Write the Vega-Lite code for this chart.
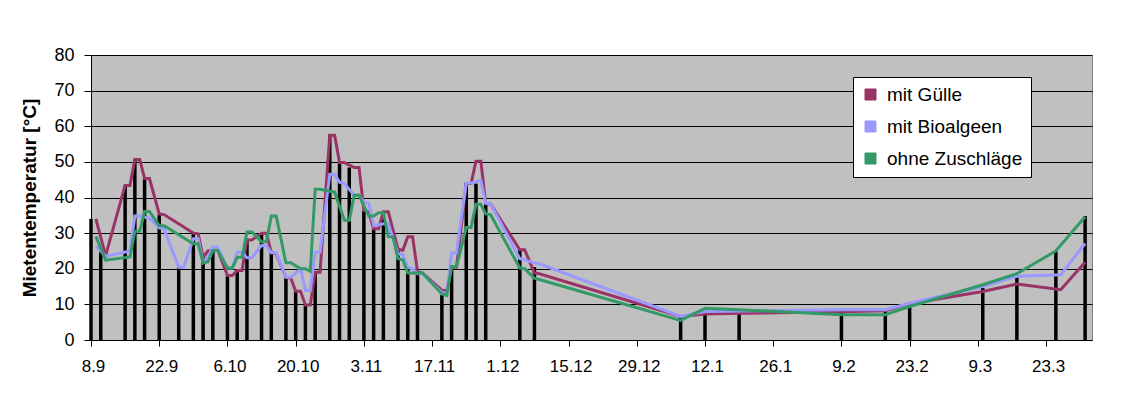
{
  "$schema": "https://vega.github.io/schema/vega-lite/v6.json",
  "width": 1001,
  "height": 285,
  "autosize": {"type": "none"},
  "padding": {"left": 91, "top": 55, "right": 54, "bottom": 66},
  "background": "white",
  "config": {
    "font": "Liberation Sans",
    "view": {"fill": "#C0C0C0", "stroke": "#808080", "strokeWidth": 1}
  },
  "datasets": {
    "balken": [
      {"Datum": "2004-09-08", "Temperatur": 34.0},
      {"Datum": "2004-09-10", "Temperatur": 25.0},
      {"Datum": "2004-09-15", "Temperatur": 43.4},
      {"Datum": "2004-09-17", "Temperatur": 50.7},
      {"Datum": "2004-09-19", "Temperatur": 45.3},
      {"Datum": "2004-09-22", "Temperatur": 35.2},
      {"Datum": "2004-09-26", "Temperatur": 20.4},
      {"Datum": "2004-09-29", "Temperatur": 30.0},
      {"Datum": "2004-10-01", "Temperatur": 23.2},
      {"Datum": "2004-10-03", "Temperatur": 25.3},
      {"Datum": "2004-10-06", "Temperatur": 18.1},
      {"Datum": "2004-10-08", "Temperatur": 19.5},
      {"Datum": "2004-10-10", "Temperatur": 28.1},
      {"Datum": "2004-10-13", "Temperatur": 30.0},
      {"Datum": "2004-10-15", "Temperatur": 24.5},
      {"Datum": "2004-10-18", "Temperatur": 17.6},
      {"Datum": "2004-10-20", "Temperatur": 13.7},
      {"Datum": "2004-10-22", "Temperatur": 9.8},
      {"Datum": "2004-10-24", "Temperatur": 19.0},
      {"Datum": "2004-10-27", "Temperatur": 57.5},
      {"Datum": "2004-10-29", "Temperatur": 49.8},
      {"Datum": "2004-10-31", "Temperatur": 48.4},
      {"Datum": "2004-11-03", "Temperatur": 36.4},
      {"Datum": "2004-11-05", "Temperatur": 31.2},
      {"Datum": "2004-11-07", "Temperatur": 36.0},
      {"Datum": "2004-11-10", "Temperatur": 25.1},
      {"Datum": "2004-11-12", "Temperatur": 20.1},
      {"Datum": "2004-11-14", "Temperatur": 18.7},
      {"Datum": "2004-11-19", "Temperatur": 12.6},
      {"Datum": "2004-11-21", "Temperatur": 20.9},
      {"Datum": "2004-11-24", "Temperatur": 44.1},
      {"Datum": "2004-11-26", "Temperatur": 43.9},
      {"Datum": "2004-11-28", "Temperatur": 38.2},
      {"Datum": "2004-12-05", "Temperatur": 25.3},
      {"Datum": "2004-12-08", "Temperatur": 20.5},
      {"Datum": "2005-01-07", "Temperatur": 6.6},
      {"Datum": "2005-01-12", "Temperatur": 7.3},
      {"Datum": "2005-01-19", "Temperatur": 7.3},
      {"Datum": "2005-02-09", "Temperatur": 8.0},
      {"Datum": "2005-02-18", "Temperatur": 8.0},
      {"Datum": "2005-02-23", "Temperatur": 10.2},
      {"Datum": "2005-03-10", "Temperatur": 14.6},
      {"Datum": "2005-03-17", "Temperatur": 17.9},
      {"Datum": "2005-03-25", "Temperatur": 24.9},
      {"Datum": "2005-03-31", "Temperatur": 34.8}
    ],
    "linien": [
      {"Datum": "2004-09-09", "Serie": "mit Gülle", "Temperatur": 34.0},
      {"Datum": "2004-09-11", "Serie": "mit Gülle", "Temperatur": 23.7},
      {"Datum": "2004-09-15", "Serie": "mit Gülle", "Temperatur": 43.4},
      {"Datum": "2004-09-16", "Serie": "mit Gülle", "Temperatur": 43.4},
      {"Datum": "2004-09-17", "Serie": "mit Gülle", "Temperatur": 50.7},
      {"Datum": "2004-09-18", "Serie": "mit Gülle", "Temperatur": 50.7},
      {"Datum": "2004-09-19", "Serie": "mit Gülle", "Temperatur": 45.3},
      {"Datum": "2004-09-20", "Serie": "mit Gülle", "Temperatur": 45.3},
      {"Datum": "2004-09-22", "Serie": "mit Gülle", "Temperatur": 35.4},
      {"Datum": "2004-09-23", "Serie": "mit Gülle", "Temperatur": 35.2},
      {"Datum": "2004-09-29", "Serie": "mit Gülle", "Temperatur": 30.0},
      {"Datum": "2004-09-30", "Serie": "mit Gülle", "Temperatur": 29.8},
      {"Datum": "2004-10-01", "Serie": "mit Gülle", "Temperatur": 23.2},
      {"Datum": "2004-10-02", "Serie": "mit Gülle", "Temperatur": 25.0},
      {"Datum": "2004-10-04", "Serie": "mit Gülle", "Temperatur": 25.3},
      {"Datum": "2004-10-06", "Serie": "mit Gülle", "Temperatur": 18.1},
      {"Datum": "2004-10-07", "Serie": "mit Gülle", "Temperatur": 18.1},
      {"Datum": "2004-10-08", "Serie": "mit Gülle", "Temperatur": 19.5},
      {"Datum": "2004-10-09", "Serie": "mit Gülle", "Temperatur": 19.5},
      {"Datum": "2004-10-10", "Serie": "mit Gülle", "Temperatur": 28.1},
      {"Datum": "2004-10-11", "Serie": "mit Gülle", "Temperatur": 28.1},
      {"Datum": "2004-10-13", "Serie": "mit Gülle", "Temperatur": 30.0},
      {"Datum": "2004-10-14", "Serie": "mit Gülle", "Temperatur": 30.0},
      {"Datum": "2004-10-15", "Serie": "mit Gülle", "Temperatur": 24.5},
      {"Datum": "2004-10-16", "Serie": "mit Gülle", "Temperatur": 24.2},
      {"Datum": "2004-10-18", "Serie": "mit Gülle", "Temperatur": 17.6},
      {"Datum": "2004-10-19", "Serie": "mit Gülle", "Temperatur": 17.4},
      {"Datum": "2004-10-20", "Serie": "mit Gülle", "Temperatur": 13.7},
      {"Datum": "2004-10-21", "Serie": "mit Gülle", "Temperatur": 13.7},
      {"Datum": "2004-10-22", "Serie": "mit Gülle", "Temperatur": 9.8},
      {"Datum": "2004-10-23", "Serie": "mit Gülle", "Temperatur": 9.8},
      {"Datum": "2004-10-24", "Serie": "mit Gülle", "Temperatur": 19.0},
      {"Datum": "2004-10-25", "Serie": "mit Gülle", "Temperatur": 19.0},
      {"Datum": "2004-10-27", "Serie": "mit Gülle", "Temperatur": 57.5},
      {"Datum": "2004-10-28", "Serie": "mit Gülle", "Temperatur": 57.5},
      {"Datum": "2004-10-29", "Serie": "mit Gülle", "Temperatur": 49.8},
      {"Datum": "2004-10-30", "Serie": "mit Gülle", "Temperatur": 49.8},
      {"Datum": "2004-11-01", "Serie": "mit Gülle", "Temperatur": 48.4},
      {"Datum": "2004-11-02", "Serie": "mit Gülle", "Temperatur": 48.4},
      {"Datum": "2004-11-03", "Serie": "mit Gülle", "Temperatur": 36.4},
      {"Datum": "2004-11-04", "Serie": "mit Gülle", "Temperatur": 35.9},
      {"Datum": "2004-11-05", "Serie": "mit Gülle", "Temperatur": 31.2},
      {"Datum": "2004-11-06", "Serie": "mit Gülle", "Temperatur": 31.2},
      {"Datum": "2004-11-07", "Serie": "mit Gülle", "Temperatur": 36.0},
      {"Datum": "2004-11-08", "Serie": "mit Gülle", "Temperatur": 36.0},
      {"Datum": "2004-11-10", "Serie": "mit Gülle", "Temperatur": 25.5},
      {"Datum": "2004-11-11", "Serie": "mit Gülle", "Temperatur": 25.2},
      {"Datum": "2004-11-12", "Serie": "mit Gülle", "Temperatur": 29.0},
      {"Datum": "2004-11-13", "Serie": "mit Gülle", "Temperatur": 29.0},
      {"Datum": "2004-11-14", "Serie": "mit Gülle", "Temperatur": 19.2},
      {"Datum": "2004-11-15", "Serie": "mit Gülle", "Temperatur": 18.8},
      {"Datum": "2004-11-19", "Serie": "mit Gülle", "Temperatur": 14.0},
      {"Datum": "2004-11-20", "Serie": "mit Gülle", "Temperatur": 13.8},
      {"Datum": "2004-11-21", "Serie": "mit Gülle", "Temperatur": 20.4},
      {"Datum": "2004-11-22", "Serie": "mit Gülle", "Temperatur": 20.4},
      {"Datum": "2004-11-24", "Serie": "mit Gülle", "Temperatur": 43.9},
      {"Datum": "2004-11-25", "Serie": "mit Gülle", "Temperatur": 43.9},
      {"Datum": "2004-11-26", "Serie": "mit Gülle", "Temperatur": 50.2},
      {"Datum": "2004-11-27", "Serie": "mit Gülle", "Temperatur": 50.2},
      {"Datum": "2004-11-28", "Serie": "mit Gülle", "Temperatur": 38.3},
      {"Datum": "2004-11-29", "Serie": "mit Gülle", "Temperatur": 38.2},
      {"Datum": "2004-12-05", "Serie": "mit Gülle", "Temperatur": 25.3},
      {"Datum": "2004-12-06", "Serie": "mit Gülle", "Temperatur": 25.3},
      {"Datum": "2004-12-08", "Serie": "mit Gülle", "Temperatur": 18.8},
      {"Datum": "2004-12-09", "Serie": "mit Gülle", "Temperatur": 18.6},
      {"Datum": "2005-01-07", "Serie": "mit Gülle", "Temperatur": 6.6},
      {"Datum": "2005-01-12", "Serie": "mit Gülle", "Temperatur": 7.3},
      {"Datum": "2005-01-19", "Serie": "mit Gülle", "Temperatur": 7.5},
      {"Datum": "2005-02-09", "Serie": "mit Gülle", "Temperatur": 7.9},
      {"Datum": "2005-02-18", "Serie": "mit Gülle", "Temperatur": 8.2},
      {"Datum": "2005-02-23", "Serie": "mit Gülle", "Temperatur": 10.2},
      {"Datum": "2005-03-10", "Serie": "mit Gülle", "Temperatur": 13.6},
      {"Datum": "2005-03-17", "Serie": "mit Gülle", "Temperatur": 15.7},
      {"Datum": "2005-03-26", "Serie": "mit Gülle", "Temperatur": 14.1},
      {"Datum": "2005-03-31", "Serie": "mit Gülle", "Temperatur": 21.8},

      {"Datum": "2004-09-09", "Serie": "mit Bioalgeen", "Temperatur": 26.3},
      {"Datum": "2004-09-11", "Serie": "mit Bioalgeen", "Temperatur": 23.5},
      {"Datum": "2004-09-16", "Serie": "mit Bioalgeen", "Temperatur": 25.0},
      {"Datum": "2004-09-17", "Serie": "mit Bioalgeen", "Temperatur": 34.8},
      {"Datum": "2004-09-18", "Serie": "mit Bioalgeen", "Temperatur": 34.8},
      {"Datum": "2004-09-20", "Serie": "mit Bioalgeen", "Temperatur": 34.2},
      {"Datum": "2004-09-22", "Serie": "mit Bioalgeen", "Temperatur": 31.5},
      {"Datum": "2004-09-23", "Serie": "mit Bioalgeen", "Temperatur": 31.2},
      {"Datum": "2004-09-26", "Serie": "mit Bioalgeen", "Temperatur": 20.4},
      {"Datum": "2004-09-27", "Serie": "mit Bioalgeen", "Temperatur": 20.4},
      {"Datum": "2004-09-29", "Serie": "mit Bioalgeen", "Temperatur": 28.4},
      {"Datum": "2004-09-30", "Serie": "mit Bioalgeen", "Temperatur": 28.4},
      {"Datum": "2004-10-01", "Serie": "mit Bioalgeen", "Temperatur": 21.8},
      {"Datum": "2004-10-02", "Serie": "mit Bioalgeen", "Temperatur": 23.2},
      {"Datum": "2004-10-03", "Serie": "mit Bioalgeen", "Temperatur": 26.1},
      {"Datum": "2004-10-04", "Serie": "mit Bioalgeen", "Temperatur": 26.1},
      {"Datum": "2004-10-06", "Serie": "mit Bioalgeen", "Temperatur": 20.2},
      {"Datum": "2004-10-07", "Serie": "mit Bioalgeen", "Temperatur": 20.2},
      {"Datum": "2004-10-08", "Serie": "mit Bioalgeen", "Temperatur": 24.6},
      {"Datum": "2004-10-09", "Serie": "mit Bioalgeen", "Temperatur": 24.6},
      {"Datum": "2004-10-10", "Serie": "mit Bioalgeen", "Temperatur": 23.1},
      {"Datum": "2004-10-11", "Serie": "mit Bioalgeen", "Temperatur": 23.1},
      {"Datum": "2004-10-13", "Serie": "mit Bioalgeen", "Temperatur": 26.5},
      {"Datum": "2004-10-14", "Serie": "mit Bioalgeen", "Temperatur": 26.5},
      {"Datum": "2004-10-15", "Serie": "mit Bioalgeen", "Temperatur": 24.5},
      {"Datum": "2004-10-16", "Serie": "mit Bioalgeen", "Temperatur": 24.5},
      {"Datum": "2004-10-18", "Serie": "mit Bioalgeen", "Temperatur": 17.6},
      {"Datum": "2004-10-19", "Serie": "mit Bioalgeen", "Temperatur": 17.6},
      {"Datum": "2004-10-21", "Serie": "mit Bioalgeen", "Temperatur": 20.0},
      {"Datum": "2004-10-22", "Serie": "mit Bioalgeen", "Temperatur": 13.9},
      {"Datum": "2004-10-23", "Serie": "mit Bioalgeen", "Temperatur": 13.9},
      {"Datum": "2004-10-24", "Serie": "mit Bioalgeen", "Temperatur": 24.6},
      {"Datum": "2004-10-25", "Serie": "mit Bioalgeen", "Temperatur": 24.6},
      {"Datum": "2004-10-27", "Serie": "mit Bioalgeen", "Temperatur": 46.5},
      {"Datum": "2004-10-28", "Serie": "mit Bioalgeen", "Temperatur": 46.5},
      {"Datum": "2004-10-29", "Serie": "mit Bioalgeen", "Temperatur": 44.3},
      {"Datum": "2004-10-30", "Serie": "mit Bioalgeen", "Temperatur": 43.9},
      {"Datum": "2004-11-01", "Serie": "mit Bioalgeen", "Temperatur": 40.6},
      {"Datum": "2004-11-02", "Serie": "mit Bioalgeen", "Temperatur": 40.6},
      {"Datum": "2004-11-03", "Serie": "mit Bioalgeen", "Temperatur": 38.7},
      {"Datum": "2004-11-04", "Serie": "mit Bioalgeen", "Temperatur": 38.4},
      {"Datum": "2004-11-05", "Serie": "mit Bioalgeen", "Temperatur": 32.1},
      {"Datum": "2004-11-07", "Serie": "mit Bioalgeen", "Temperatur": 32.6},
      {"Datum": "2004-11-08", "Serie": "mit Bioalgeen", "Temperatur": 32.6},
      {"Datum": "2004-11-10", "Serie": "mit Bioalgeen", "Temperatur": 24.2},
      {"Datum": "2004-11-11", "Serie": "mit Bioalgeen", "Temperatur": 24.0},
      {"Datum": "2004-11-12", "Serie": "mit Bioalgeen", "Temperatur": 20.4},
      {"Datum": "2004-11-13", "Serie": "mit Bioalgeen", "Temperatur": 20.0},
      {"Datum": "2004-11-14", "Serie": "mit Bioalgeen", "Temperatur": 18.6},
      {"Datum": "2004-11-15", "Serie": "mit Bioalgeen", "Temperatur": 18.6},
      {"Datum": "2004-11-19", "Serie": "mit Bioalgeen", "Temperatur": 13.4},
      {"Datum": "2004-11-20", "Serie": "mit Bioalgeen", "Temperatur": 12.9},
      {"Datum": "2004-11-21", "Serie": "mit Bioalgeen", "Temperatur": 24.4},
      {"Datum": "2004-11-22", "Serie": "mit Bioalgeen", "Temperatur": 24.4},
      {"Datum": "2004-11-24", "Serie": "mit Bioalgeen", "Temperatur": 44.1},
      {"Datum": "2004-11-25", "Serie": "mit Bioalgeen", "Temperatur": 44.1},
      {"Datum": "2004-11-27", "Serie": "mit Bioalgeen", "Temperatur": 44.8},
      {"Datum": "2004-11-28", "Serie": "mit Bioalgeen", "Temperatur": 38.4},
      {"Datum": "2004-11-29", "Serie": "mit Bioalgeen", "Temperatur": 38.2},
      {"Datum": "2004-12-05", "Serie": "mit Bioalgeen", "Temperatur": 22.8},
      {"Datum": "2004-12-06", "Serie": "mit Bioalgeen", "Temperatur": 22.5},
      {"Datum": "2004-12-08", "Serie": "mit Bioalgeen", "Temperatur": 21.6},
      {"Datum": "2004-12-09", "Serie": "mit Bioalgeen", "Temperatur": 21.4},
      {"Datum": "2005-01-07", "Serie": "mit Bioalgeen", "Temperatur": 6.6},
      {"Datum": "2005-01-12", "Serie": "mit Bioalgeen", "Temperatur": 8.0},
      {"Datum": "2005-02-09", "Serie": "mit Bioalgeen", "Temperatur": 8.5},
      {"Datum": "2005-02-18", "Serie": "mit Bioalgeen", "Temperatur": 8.5},
      {"Datum": "2005-02-23", "Serie": "mit Bioalgeen", "Temperatur": 10.3},
      {"Datum": "2005-03-10", "Serie": "mit Bioalgeen", "Temperatur": 15.0},
      {"Datum": "2005-03-17", "Serie": "mit Bioalgeen", "Temperatur": 17.9},
      {"Datum": "2005-03-26", "Serie": "mit Bioalgeen", "Temperatur": 18.3},
      {"Datum": "2005-03-31", "Serie": "mit Bioalgeen", "Temperatur": 27.1},

      {"Datum": "2004-09-09", "Serie": "ohne Zuschläge", "Temperatur": 29.1},
      {"Datum": "2004-09-11", "Serie": "ohne Zuschläge", "Temperatur": 22.4},
      {"Datum": "2004-09-16", "Serie": "ohne Zuschläge", "Temperatur": 23.3},
      {"Datum": "2004-09-17", "Serie": "ohne Zuschläge", "Temperatur": 30.5},
      {"Datum": "2004-09-18", "Serie": "ohne Zuschläge", "Temperatur": 30.5},
      {"Datum": "2004-09-19", "Serie": "ohne Zuschläge", "Temperatur": 36.1},
      {"Datum": "2004-09-20", "Serie": "ohne Zuschläge", "Temperatur": 36.1},
      {"Datum": "2004-09-22", "Serie": "ohne Zuschläge", "Temperatur": 32.1},
      {"Datum": "2004-09-23", "Serie": "ohne Zuschläge", "Temperatur": 32.1},
      {"Datum": "2004-09-29", "Serie": "ohne Zuschläge", "Temperatur": 27.0},
      {"Datum": "2004-09-30", "Serie": "ohne Zuschläge", "Temperatur": 27.0},
      {"Datum": "2004-10-01", "Serie": "ohne Zuschläge", "Temperatur": 21.7},
      {"Datum": "2004-10-02", "Serie": "ohne Zuschläge", "Temperatur": 21.9},
      {"Datum": "2004-10-03", "Serie": "ohne Zuschläge", "Temperatur": 25.1},
      {"Datum": "2004-10-04", "Serie": "ohne Zuschläge", "Temperatur": 25.1},
      {"Datum": "2004-10-06", "Serie": "ohne Zuschläge", "Temperatur": 20.2},
      {"Datum": "2004-10-07", "Serie": "ohne Zuschläge", "Temperatur": 20.2},
      {"Datum": "2004-10-08", "Serie": "ohne Zuschläge", "Temperatur": 23.2},
      {"Datum": "2004-10-09", "Serie": "ohne Zuschläge", "Temperatur": 23.2},
      {"Datum": "2004-10-10", "Serie": "ohne Zuschläge", "Temperatur": 30.3},
      {"Datum": "2004-10-11", "Serie": "ohne Zuschläge", "Temperatur": 30.3},
      {"Datum": "2004-10-13", "Serie": "ohne Zuschläge", "Temperatur": 27.6},
      {"Datum": "2004-10-14", "Serie": "ohne Zuschläge", "Temperatur": 27.6},
      {"Datum": "2004-10-15", "Serie": "ohne Zuschläge", "Temperatur": 34.8},
      {"Datum": "2004-10-16", "Serie": "ohne Zuschläge", "Temperatur": 34.8},
      {"Datum": "2004-10-18", "Serie": "ohne Zuschläge", "Temperatur": 21.7},
      {"Datum": "2004-10-19", "Serie": "ohne Zuschläge", "Temperatur": 21.7},
      {"Datum": "2004-10-21", "Serie": "ohne Zuschläge", "Temperatur": 20.0},
      {"Datum": "2004-10-22", "Serie": "ohne Zuschläge", "Temperatur": 20.0},
      {"Datum": "2004-10-23", "Serie": "ohne Zuschläge", "Temperatur": 19.3},
      {"Datum": "2004-10-24", "Serie": "ohne Zuschläge", "Temperatur": 42.3},
      {"Datum": "2004-10-25", "Serie": "ohne Zuschläge", "Temperatur": 42.3},
      {"Datum": "2004-10-28", "Serie": "ohne Zuschläge", "Temperatur": 41.5},
      {"Datum": "2004-10-30", "Serie": "ohne Zuschläge", "Temperatur": 33.6},
      {"Datum": "2004-10-31", "Serie": "ohne Zuschläge", "Temperatur": 33.6},
      {"Datum": "2004-11-01", "Serie": "ohne Zuschläge", "Temperatur": 40.6},
      {"Datum": "2004-11-02", "Serie": "ohne Zuschläge", "Temperatur": 40.6},
      {"Datum": "2004-11-04", "Serie": "ohne Zuschläge", "Temperatur": 34.8},
      {"Datum": "2004-11-05", "Serie": "ohne Zuschläge", "Temperatur": 34.8},
      {"Datum": "2004-11-06", "Serie": "ohne Zuschläge", "Temperatur": 35.7},
      {"Datum": "2004-11-07", "Serie": "ohne Zuschläge", "Temperatur": 35.7},
      {"Datum": "2004-11-08", "Serie": "ohne Zuschläge", "Temperatur": 29.0},
      {"Datum": "2004-11-09", "Serie": "ohne Zuschläge", "Temperatur": 28.9},
      {"Datum": "2004-11-10", "Serie": "ohne Zuschläge", "Temperatur": 22.8},
      {"Datum": "2004-11-11", "Serie": "ohne Zuschläge", "Temperatur": 22.5},
      {"Datum": "2004-11-12", "Serie": "ohne Zuschläge", "Temperatur": 18.8},
      {"Datum": "2004-11-13", "Serie": "ohne Zuschläge", "Temperatur": 18.8},
      {"Datum": "2004-11-15", "Serie": "ohne Zuschläge", "Temperatur": 18.9},
      {"Datum": "2004-11-19", "Serie": "ohne Zuschläge", "Temperatur": 12.9},
      {"Datum": "2004-11-20", "Serie": "ohne Zuschläge", "Temperatur": 12.5},
      {"Datum": "2004-11-21", "Serie": "ohne Zuschläge", "Temperatur": 20.6},
      {"Datum": "2004-11-22", "Serie": "ohne Zuschläge", "Temperatur": 20.6},
      {"Datum": "2004-11-24", "Serie": "ohne Zuschläge", "Temperatur": 31.6},
      {"Datum": "2004-11-25", "Serie": "ohne Zuschläge", "Temperatur": 31.6},
      {"Datum": "2004-11-26", "Serie": "ohne Zuschläge", "Temperatur": 38.1},
      {"Datum": "2004-11-27", "Serie": "ohne Zuschläge", "Temperatur": 38.1},
      {"Datum": "2004-11-28", "Serie": "ohne Zuschläge", "Temperatur": 35.4},
      {"Datum": "2004-11-29", "Serie": "ohne Zuschläge", "Temperatur": 35.2},
      {"Datum": "2004-12-05", "Serie": "ohne Zuschläge", "Temperatur": 20.2},
      {"Datum": "2004-12-06", "Serie": "ohne Zuschläge", "Temperatur": 20.0},
      {"Datum": "2004-12-08", "Serie": "ohne Zuschläge", "Temperatur": 17.3},
      {"Datum": "2004-12-09", "Serie": "ohne Zuschläge", "Temperatur": 17.0},
      {"Datum": "2005-01-07", "Serie": "ohne Zuschläge", "Temperatur": 5.5},
      {"Datum": "2005-01-12", "Serie": "ohne Zuschläge", "Temperatur": 8.9},
      {"Datum": "2005-01-19", "Serie": "ohne Zuschläge", "Temperatur": 8.5},
      {"Datum": "2005-02-09", "Serie": "ohne Zuschläge", "Temperatur": 7.1},
      {"Datum": "2005-02-18", "Serie": "ohne Zuschläge", "Temperatur": 7.1},
      {"Datum": "2005-02-23", "Serie": "ohne Zuschläge", "Temperatur": 9.4},
      {"Datum": "2005-03-10", "Serie": "ohne Zuschläge", "Temperatur": 15.5},
      {"Datum": "2005-03-17", "Serie": "ohne Zuschläge", "Temperatur": 18.6},
      {"Datum": "2005-03-25", "Serie": "ohne Zuschläge", "Temperatur": 25.0},
      {"Datum": "2005-03-31", "Serie": "ohne Zuschläge", "Temperatur": 34.6}
    ]
  },
  "encoding": {
    "x": {
      "field": "Datum",
      "type": "temporal",
      "scale": {
        "type": "utc",
        "nice": false,
        "domain": [
          {"year": 2004, "month": 9, "date": 8, "utc": true},
          {"year": 2005, "month": 4, "date": 1, "hours": 10, "utc": true}
        ]
      },
      "axis": {
        "title": null,
        "grid": false,
        "format": "%-d.%-m",
        "values": [
          {"year": 2004, "month": 9, "date": 8, "utc": true},
          {"year": 2004, "month": 9, "date": 22, "utc": true},
          {"year": 2004, "month": 10, "date": 6, "utc": true},
          {"year": 2004, "month": 10, "date": 20, "utc": true},
          {"year": 2004, "month": 11, "date": 3, "utc": true},
          {"year": 2004, "month": 11, "date": 17, "utc": true},
          {"year": 2004, "month": 12, "date": 1, "utc": true},
          {"year": 2004, "month": 12, "date": 15, "utc": true},
          {"year": 2004, "month": 12, "date": 29, "utc": true},
          {"year": 2005, "month": 1, "date": 12, "utc": true},
          {"year": 2005, "month": 1, "date": 26, "utc": true},
          {"year": 2005, "month": 2, "date": 9, "utc": true},
          {"year": 2005, "month": 2, "date": 23, "utc": true},
          {"year": 2005, "month": 3, "date": 9, "utc": true},
          {"year": 2005, "month": 3, "date": 23, "utc": true}
        ],
        "labelFontSize": 17,
        "labelColor": "black",
        "labelPadding": 12,
        "labelOffset": 2,
        "labelOverlap": false,
        "labelFlush": false,
        "tickSize": 6,
        "tickColor": "black",
        "domainColor": "black"
      }
    },
    "y": {
      "field": "Temperatur",
      "type": "quantitative",
      "scale": {"domain": [0, 80], "nice": false},
      "axis": {
        "title": "Mietentemperatur [°C]",
        "titleFontSize": 19,
        "titleFontWeight": "bold",
        "titleColor": "black",
        "titlePadding": 14,
        "values": [0, 10, 20, 30, 40, 50, 60, 70, 80],
        "labelOverlap": false,
        "labelFontSize": 18,
        "labelColor": "black",
        "labelPadding": 10,
        "tickSize": 7,
        "tickColor": "black",
        "domainColor": "black",
        "grid": true,
        "gridColor": "black",
        "gridOpacity": 1,
        "gridWidth": 1
      }
    }
  },
  "layer": [
    {
      "data": {"name": "balken"},
      "mark": {"type": "rule", "color": "black", "strokeWidth": 3.5},
      "encoding": {
        "y2": {"datum": 0}
      }
    },
    {
      "data": {"name": "linien"},
      "mark": {"type": "line", "strokeWidth": 3},
      "encoding": {
        "color": {
          "field": "Serie",
          "type": "nominal",
          "scale": {
            "domain": ["mit Gülle", "mit Bioalgeen", "ohne Zuschläge"],
            "range": ["#993366", "#9999FF", "#339966"]
          },
          "legend": {
            "orient": "none",
            "legendX": 762,
            "legendY": 22,
            "title": null,
            "fillColor": "white",
            "strokeColor": "black",
            "padding": 8,
            "labelFontSize": 19,
            "labelColor": "black",
            "labelOffset": 7,
            "rowPadding": 12,
            "symbolType": "square",
            "symbolSize": 121,
            "symbolStrokeWidth": 1,
            "cornerRadius": 0,
            "encode": {
              "symbols": {
                "update": {
                  "fill": {"scale": "color", "field": "value"},
                  "stroke": {"value": "black"},
                  "strokeWidth": {"value": 1},
                  "opacity": {"value": 1}
                }
              }
            }
          }
        }
      }
    }
  ]
}
